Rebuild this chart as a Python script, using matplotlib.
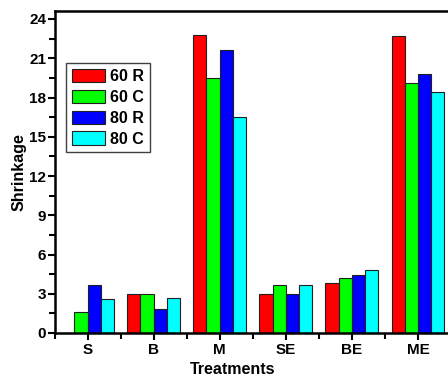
import numpy as np
import matplotlib.pyplot as plt
from matplotlib.ticker import MultipleLocator, FixedLocator

treatments = ['S', 'B', 'M', 'SE', 'BE', 'ME']
series = ['60 R', '60 C', '80 R', '80 C']
v60r = [0.0, 3.0, 22.8, 2.95, 3.8, 22.7]
v60c = [1.6, 3.0, 19.5, 3.7, 4.2, 19.1]
v80r = [3.7, 1.8, 21.6, 2.95, 4.4, 19.8]
v80c = [2.6, 2.7, 16.5, 3.7, 4.8, 18.4]
colors = ['#ff0000', '#00ff00', '#0000ff', '#00ffff']

plt.rcParams['font.family'] = ['Liberation Sans', 'DejaVu Sans']
plt.rcParams['font.weight'] = 'bold'

fig = plt.figure(figsize=(4.48, 3.8), dpi=100)
ax = fig.add_axes([54.5 / 448, 47 / 380, 396.5 / 448, 322 / 380])

x = np.arange(1, len(treatments) + 1)
w = 0.2
for i, (vals, name) in enumerate(zip([v60r, v60c, v80r, v80c], series)):
    ax.bar(x - 0.3 + i * w, vals, w, color=colors[i], edgecolor='#202020',
           linewidth=0.8, label=name)

ax.set_xlim(0.5, 6.5)
ax.set_ylim(0, 24 * 322 / 314)
ax.set_xticks(x)
ax.set_xticklabels(treatments)
ax.xaxis.set_minor_locator(FixedLocator(np.arange(0.5, 7, 1)))
ax.yaxis.set_major_locator(MultipleLocator(3))
ax.yaxis.set_minor_locator(MultipleLocator(1.5))
ax.tick_params(which='both', direction='out', width=1.5, labelsize=11)
ax.tick_params(which='major', length=5)
ax.tick_params(which='minor', length=4)
ax.tick_params(axis='x', pad=2)
ax.tick_params(axis='y', pad=1)
for s in ax.spines.values():
    s.set_linewidth(1.8)

ax.set_xlabel('Treatments', fontsize=11.5, fontweight='bold', labelpad=3)
ax.xaxis.set_label_coords(0.448, -0.09)
ax.set_ylabel('Shrinkage', fontsize=11.5, fontweight='bold', labelpad=2)

leg = ax.legend(loc='upper left', bbox_to_anchor=(0.029, 0.8385), fontsize=11.5,
                handlelength=2.1, handleheight=0.95, handletextpad=0.3,
                labelspacing=0.35, borderpad=0.35, borderaxespad=0,
                fancybox=False, framealpha=1, edgecolor='#404040')
leg.get_frame().set_linewidth(1.0)

fig.savefig('out.png', dpi=100)
